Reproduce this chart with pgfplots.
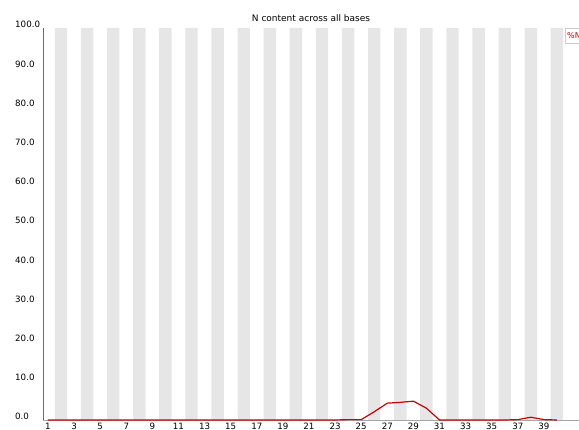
\documentclass[border=0pt]{standalone}
\usepackage{fontspec}
\setmainfont{DejaVu Sans}
\usepackage{pgfplots}
\pgfplotsset{compat=1.18}
\definecolor{band}{RGB}{230,230,230}
\definecolor{nline}{RGB}{204,0,0}
\definecolor{axisgrey}{RGB}{110,110,110}

\begin{document}
\begin{tikzpicture}[x=1pt,y=1pt]
\begin{axis}[
  at={(43pt,10pt)}, anchor=south west,
  scale only axis,
  width=536pt, height=392pt,
  xmin=0.617, xmax=41.69,
  ymin=0, ymax=100,
  axis lines*=left,
  axis line style={axisgrey, line width=0.8pt},
  x axis line style={-, draw=gray!70, line width=0.6pt},
  y axis line style={-},
  xtick={1,3,...,39},
  ytick={0,10,...,100},
  major tick length=0pt,
  tick style={draw=none},
  /pgf/number format/assume math mode=true,
  yticklabel={\pgfmathprintnumber[fixed,fixed zerofill,precision=1]{\tick}},
  yticklabel style={anchor=base west, inner sep=0pt, xshift=-28pt, font=\fontsize{8.7}{10}\selectfont},
  xticklabel style={anchor=north, inner sep=0pt, yshift=-3pt, font=\fontsize{8.7}{10}\selectfont},
  title={N content across all bases},
  every axis title shift=0pt,
  title style={at={(0.5,1)}, anchor=base, yshift=6pt, inner sep=0pt, font=\fontsize{9}{11}\selectfont},
  clip=false,
]
% alternating light bands behind the even base positions
\addplot[ybar, bar width=0.95, fill=band, draw=none, bar shift=0pt]
  coordinates {(2,100)(4,100)(6,100)(8,100)(10,100)(12,100)(14,100)(16,100)(18,100)(20,100)
               (22,100)(24,100)(26,100)(28,100)(30,100)(32,100)(34,100)(36,100)(38,100)(40,100)};
% percentage of N calls at each base position
\addplot[nline, line width=1.2pt, mark=none] coordinates {
  (1,0)(2,0)(3,0)(4,0)(5,0)(6,0)(7,0)(8,0)(9,0)(10,0)
  (11,0)(12,0)(13,0)(14,0)(15,0)(16,0)(17,0)(18,0)(19,0)(20,0)
  (21,0)(22,0)(23,0)(24,0.1)(25,0.1)(26,2.1)(27,4.3)(28,4.5)(29,4.8)(30,3.0)
  (31,0)(32,0)(33,0)(34,0)(35,0)(36,0)(37,0.1)(38,0.7)(39,0.1)(40,0)};
\node[draw=gray!40, fill=white, text=nline, anchor=north west, inner sep=2pt,
      minimum height=15pt, font=\fontsize{8}{10}\selectfont]
  at (rel axis cs:0.9739,1) {\%N};
\end{axis}
\pgfresetboundingbox
\useasboundingbox (0,0) rectangle (579pt,430pt);
\end{tikzpicture}
\end{document}
